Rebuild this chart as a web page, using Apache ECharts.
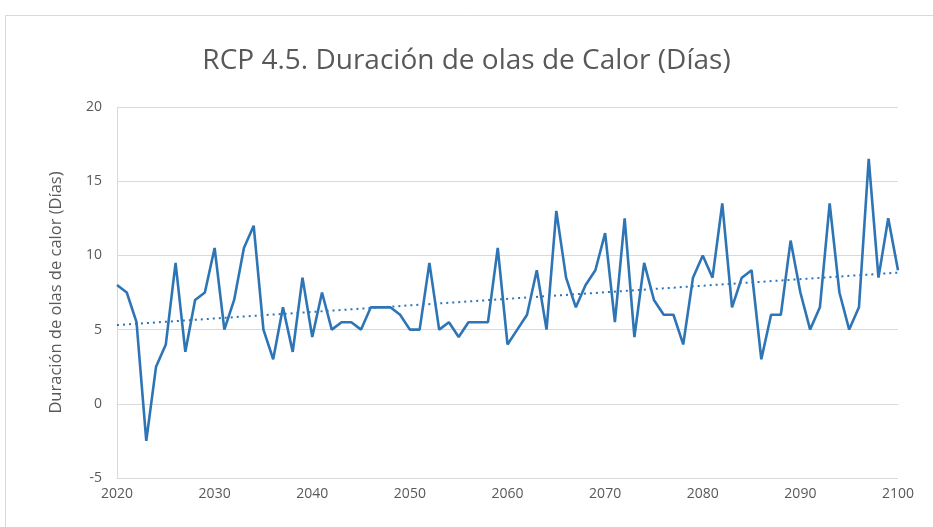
<!DOCTYPE html>
<html><head><meta charset="utf-8">
<script src="https://cdn.jsdelivr.net/npm/echarts@6/dist/echarts.min.js"></script>
<style>html,body{margin:0;padding:0;background:#fff}#c{width:933px;height:527px}</style>
</head><body><div id="c"></div>
<script>
const titleText = "RCP 4.5. Duración de olas de Calor (Días)";
const yAxisTitle = "Duración de olas de calor (Días)";
const years = [];
for (let y = 2020; y <= 2100; y++) years.push(y);
const duration = [
 8, 7.5, 5.5, -2.5, 2.5, 4, 9.5, 3.5, 7, 7.5,
 10.5, 5, 7, 10.5, 12, 5, 3, 6.5, 3.5, 8.5,
 4.5, 7.5, 5, 5.5, 5.5, 5, 6.5, 6.5, 6.5, 6,
 5, 5, 9.5, 5, 5.5, 4.5, 5.5, 5.5, 5.5, 10.5,
 4, 5, 6, 9, 5, 13, 8.5, 6.5, 8, 9,
 11.5, 5.5, 12.5, 4.5, 9.5, 7, 6, 6, 4, 8.5,
 10, 8.5, 13.5, 6.5, 8.5, 9, 3, 6, 6, 11,
 7.5, 5, 6.5, 13.5, 7.5, 5, 6.5, 16.5, 8.5, 12.5,
 9
];
const xTicks = [2020, 2030, 2040, 2050, 2060, 2070, 2080, 2090, 2100];
const yTicks = [-5, 0, 5, 10, 15, 20];

// linear trend (least squares) from the data
const n = years.length;
let sx=0, sy=0, sxx=0, sxy=0;
for (let i=0;i<n;i++){ sx+=years[i]; sy+=duration[i]; sxx+=years[i]*years[i]; sxy+=years[i]*duration[i]; }
const slope = (n*sxy - sx*sy)/(n*sxx - sx*sx);
const icpt = (sy - slope*sx)/n;
const trend = [[years[0], icpt+slope*years[0]], [years[n-1], icpt+slope*years[n-1]]];

const FONT = "Open Sans";
const chart = echarts.init(document.getElementById('c'), null, {renderer:'canvas'});
chart.setOption({
  animation:false,
  backgroundColor:'#fff',
  graphic:[{type:'rect', shape:{x:5.5,y:15.5,width:940,height:520}, style:{fill:'none', stroke:'#d9d9d9', lineWidth:1}, z:-1}],
  title:{text:titleText, left:'center', top:42, textStyle:{fontFamily:FONT, fontSize:28, fontWeight:'normal', color:'#595959'}},
  grid:{left:117, right:35, top:107, bottom:49},
  xAxis:{type:'value', min:xTicks[0], max:xTicks[xTicks.length-1], interval:10,
    axisLine:{show:true, lineStyle:{color:'#d9d9d9', width:1}}, axisTick:{show:false},
    splitLine:{show:false},
    axisLabel:{fontFamily:FONT, fontSize:14, color:'#595959', margin:9, formatter:v=>String(v)}},
  yAxis:{type:'value', min:yTicks[0], max:yTicks[yTicks.length-1], interval:5,
    name:yAxisTitle, nameLocation:'middle', nameGap:52, nameRotate:90,
    nameTextStyle:{fontFamily:FONT, fontSize:16.5, color:'#595959'},
    axisLine:{show:true, lineStyle:{color:'#d9d9d9', width:1}}, axisTick:{show:false},
    splitLine:{show:true, lineStyle:{color:'#d9d9d9', width:1}},
    axisLabel:{fontFamily:FONT, fontSize:14, color:'#595959', margin:15}},
  series:[
    {type:'line', data:years.map((y,i)=>[y,duration[i]]), showSymbol:false, symbol:'none',
     lineStyle:{color:'#2e75b6', width:2.6}, z:3},
    {type:'line', data:trend, showSymbol:false, symbol:'none',
     lineStyle:{color:'#2e75b6', width:2, type:[2,4]}, z:2}
  ]
});
</script></body></html>
